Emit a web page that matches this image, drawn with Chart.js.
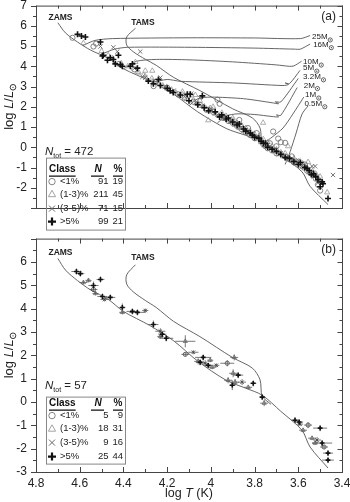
<!DOCTYPE html>
<html>
<head>
<meta charset="utf-8">
<script src="https://cdn.jsdelivr.net/npm/chart.js@4.4.0/dist/chart.umd.min.js"></script>
<style>
  html, body { margin: 0; padding: 0; background: #fff; }
  #wrap { position: relative; width: 350px; height: 502px; overflow: hidden; }
  #boxA, #boxB { position: absolute; left: 0; }
  #boxA { top: 0; }
  #boxB { top: 233px; }
</style>
</head>
<body>
<div id="wrap">
  <div id="boxA"><canvas id="chartA" width="350" height="245"></canvas></div>
  <div id="boxB"><canvas id="chartB" width="350" height="269"></canvas></div>
</div>
<script>
// axis ticks
const xTicks = [3.4, 3.6, 3.8, 4, 4.2, 4.4, 4.6, 4.8];
const yTicksTop = [-2, -1, 0, 1, 2, 3, 4, 5, 6, 7];
const yTicksBottom = [-3, -2, -1, 0, 1, 2, 3, 4, 5, 6];

// table values
const classNames = ['<1%', '(1-3)%', '(3-5)%', '>5%'];
const topN = [91, 211, 71, 99];
const topPct = [19, 45, 15, 21];
const botN = [5, 18, 9, 25];
const botPct = [9, 31, 16, 44];

// ZAMS / TAMS  [logT, logL]
const zams = [[4.70,6.15],[4.665,5.65],[4.61,5.20],[4.55,4.80],[4.47,4.40],[4.40,3.88],[4.28,3.28],[4.17,2.62],[4.06,1.75],[3.93,0.93],[3.84,0.59],[3.765,0.29],[3.68,-0.40],[3.583,-1.21],[3.546,-1.93],[3.464,-2.83]];
const tams = [[4.345,5.88],[4.385,5.45],[4.385,5.05],[4.355,4.72],[4.30,4.35],[4.25,4.05],[4.17,3.45],[4.05,2.80],[3.90,1.90],[3.81,1.45],[3.775,0.95],[3.765,0.25],[3.725,-0.10]];

// evolutionary tracks
const track25 = [[4.585,5.03],[4.53,5.28],[4.45,5.37],[4.09,5.41],[3.80,5.40],[3.59,5.37],[3.546,5.52]];
const track16 = [[4.505,4.58],[4.44,4.85],[4.38,4.94],[4.09,4.94],[3.80,4.90],[3.62,4.85],[3.59,4.85],[3.546,5.10]];
const track10 = [[4.40,3.88],[4.34,4.25],[4.25,4.34],[4.10,4.32],[3.90,4.22],[3.70,4.07],[3.64,4.00],[3.62,4.02],[3.585,4.25]];
const track5 = [[4.27,3.20],[4.20,3.35],[4.14,3.26],[3.90,3.18],[3.67,3.05],[3.645,3.10],[3.66,3.18],[3.64,3.15],[3.592,3.80]];
const track32 = [[4.10,2.05],[4.06,2.40],[4.00,2.48],[3.85,2.40],[3.72,2.20],[3.69,2.15],[3.705,2.25],[3.68,2.24],[3.60,3.40]];
const track2 = [[3.97,1.20],[3.93,1.55],[3.88,1.65],[3.80,1.62],[3.72,1.52],[3.69,1.50],[3.70,1.60],[3.68,1.58],[3.605,2.95]];
const track1 = [[3.765,0.00],[3.75,0.25],[3.72,0.50],[3.67,0.95],[3.625,1.64],[3.575,2.48]];
const track05 = [[3.66,-0.85],[3.637,-0.21],[3.61,0.70],[3.583,1.64],[3.555,2.05]];
const tracks = [track25, track16, track10, track5, track32, track2, track1, track05];
const massNames = ['25', '16', '10', '5', '3.2', '2', '1', '0.5'];
const massLabelT = [3.537, 3.532, 3.578, 3.578, 3.578, 3.575, 3.569, 3.572];
const massLabelL = [5.45, 5.07, 4.21, 3.91, 3.48, 3.05, 2.58, 2.15];

// panel (a) stars  [logT, logL]
const topCircle = [[4.633,5.41],[4.537,4.98],[4.525,5.12],[4.42,4.12],[4.35,3.85],[4.254,3.22],[4.262,3.02],[4.20,2.95],[4.15,2.62],[4.12,2.45],[4.08,2.25],[4.05,2.10],[4.02,1.85],[3.99,1.75],[3.97,2.35],[3.96,2.15],[3.94,1.45],[3.92,1.30],[3.90,1.20],[3.88,1.05],[3.87,1.35],[3.86,0.90],[3.84,0.75],[3.83,0.95],[3.82,0.60],[3.80,0.45],[3.79,0.70],[3.77,0.30],[3.76,0.15],[3.75,0.05],[3.74,-0.05],[3.73,0.20],[3.72,-0.15],[3.70,-0.30],[3.715,0.78],[3.692,0.43],[3.66,0.22],[3.68,0.25],[3.70,0.05],[3.66,-0.45],[3.64,-0.60],[3.62,-0.75],[3.58,-0.95],[3.56,-1.15],[3.52,-1.55],[3.50,-1.70],[3.50,-2.14],[3.63,-0.45],[3.57,-0.85],[3.54,-1.30],[3.51,-1.85]];
const topTriangle = [[4.583,5.15],[4.345,4.21],[4.300,3.78],[4.268,3.78],[4.336,3.70],[4.308,3.57],[4.131,2.62],[4.071,2.58],[4.003,1.94],[4.012,1.33],[3.898,1.33],[3.761,1.21],[3.647,0.05],[3.555,-0.73],[3.500,-1.67],[3.468,-2.23],[4.50,4.75],[4.47,4.55],[4.45,4.40],[4.41,4.15],[4.38,4.00],[4.33,3.70],[4.30,3.50],[4.27,3.40],[4.24,3.20],[4.22,3.05],[4.20,2.90],[4.18,2.85],[4.16,2.70],[4.14,2.55],[4.13,2.75],[4.11,2.40],[4.10,2.55],[4.08,2.35],[4.06,2.15],[4.05,2.30],[4.03,2.00],[4.02,1.90],[4.00,1.80],[3.99,2.00],[3.98,1.65],[3.96,1.55],[3.95,1.70],[3.94,1.40],[3.93,1.55],[3.92,1.35],[3.91,1.25],[3.90,1.45],[3.89,1.10],[3.88,1.20],[3.87,0.95],[3.86,1.10],[3.85,0.80],[3.84,0.95],[3.83,0.70],[3.82,0.80],[3.81,0.55],[3.80,0.65],[3.79,0.40],[3.78,0.55],[3.77,0.25],[3.76,0.40],[3.75,0.10],[3.74,0.25],[3.73,-0.05],[3.72,0.05],[3.71,-0.20],[3.70,-0.10],[3.69,-0.35],[3.68,-0.25],[3.67,-0.45],[3.66,-0.30],[3.65,-0.55],[3.63,-0.65],[3.61,-0.80],[3.59,-0.95],[3.57,-1.05],[3.55,-1.25],[3.53,-1.40],[3.62,-0.55],[3.60,-0.70],[3.58,-0.80],[3.56,-1.00],[3.54,-1.10],[3.52,-1.30],[3.51,-1.50],[3.50,-1.45]];
const topCross = [[4.505,4.98],[4.446,4.94],[4.428,4.73],[4.323,4.73],[4.313,3.48],[4.300,3.44],[4.231,3.44],[3.537,-0.94],[3.523,-0.94],[3.441,-1.37],[4.35,3.90],[4.26,3.30],[4.21,3.00],[4.17,2.80],[4.12,2.50],[4.07,2.20],[4.04,2.05],[4.00,1.90],[3.97,1.60],[3.94,1.50],[3.91,1.30],[3.89,1.15],[3.86,1.00],[3.84,0.85],[3.81,0.70],[3.79,0.50],[3.77,0.35],[3.74,0.10],[3.71,-0.10],[3.68,-0.30],[3.65,-0.50],[3.62,-0.70],[3.58,-0.90],[3.55,-1.20],[4.09,2.65],[4.05,2.45],[3.60,-0.65],[3.53,-1.45],[3.51,-1.75]];
const topPlus = [[4.610,5.58],[4.592,5.50],[4.574,5.45],[4.505,5.20],[4.492,4.55],[4.496,4.51],[4.473,4.30],[4.460,4.42],[4.446,4.34],[4.423,4.55],[4.437,4.12],[4.414,4.08],[4.405,4.00],[4.368,4.00],[4.336,3.91],[4.359,4.12],[4.286,3.27],[4.263,3.14],[4.240,3.35],[4.231,3.05],[4.199,2.92],[4.186,2.79],[4.172,2.71],[4.140,2.58],[4.108,2.62],[4.094,2.62],[4.039,2.54],[3.491,-1.71],[3.487,-1.80],[3.464,-2.53],[4.10,2.30],[4.06,2.10],[4.03,1.95],[4.01,1.80],[3.98,1.75],[3.96,1.50],[3.95,1.60],[3.93,1.40],[3.92,1.45],[3.90,1.25],[3.88,1.10],[3.87,1.15],[3.85,0.90],[3.84,0.80],[3.82,0.70],[3.81,0.60],[3.80,0.50],[3.78,0.45],[3.77,0.30],[3.76,0.20],[3.75,0.20],[3.74,0.00],[3.72,-0.10],[3.70,-0.20],[3.68,-0.35],[3.66,-0.50],[3.64,-0.55],[3.62,-0.70],[3.60,-0.85],[3.57,-1.00],[3.55,-1.15],[3.53,-1.30],[3.52,-1.45],[3.59,-0.75],[3.56,-1.05],[3.54,-1.35],[3.51,-1.60],[3.50,-1.95]];

// panel (b) stars  [logT, logL, err logT, err logL]
const botCircle = [[4.537,4.82,0.018,0.085],[4.117,2.04,0.018,0.085],[3.925,1.66,0.032,0.13],[3.555,-0.99,0.018,0.13],[3.482,-1.93,0.018,0.085]];
const botTriangle = [[4.583,5.12,0.018,0.085],[4.528,4.65,0.014,0.085],[4.405,3.84,0.014,0.085],[4.231,2.81,0.014,0.085],[4.117,2.60,0.046,0.26],[4.058,1.74,0.018,0.13],[3.994,1.49,0.018,0.085],[3.893,1.91,0.018,0.13],[3.898,1.23,0.018,0.17],[3.921,0.93,0.018,0.13],[3.889,0.85,0.018,0.13],[3.829,0.63,0.018,0.085],[3.756,-0.05,0.018,0.13],[3.578,-1.21,0.018,0.085],[3.537,-1.55,0.018,0.085],[3.523,-1.76,0.014,0.085],[4.560,5.21,0.014,0.085],[4.003,1.79,0.014,0.085]];
const botCross = [[4.487,4.39,0.018,0.085],[4.231,3.03,0.023,0.13],[4.080,2.13,0.023,0.085],[4.026,1.66,0.018,0.13],[3.975,1.57,0.014,0.085],[3.857,0.85,0.018,0.13],[3.514,-1.63,0.018,0.13],[4.300,3.92,0.014,0.085],[3.592,-0.95,0.014,0.085]];
const botPlus = [[4.615,5.59,0.023,0.13],[4.597,5.50,0.018,0.13],[4.537,4.99,0.023,0.17],[4.505,5.25,0.018,0.13],[4.496,4.52,0.023,0.13],[4.460,4.48,0.023,0.13],[4.405,4.05,0.014,0.17],[4.359,3.88,0.027,0.13],[4.336,3.84,0.037,0.13],[4.263,3.32,0.023,0.17],[4.222,2.90,0.018,0.13],[4.204,2.73,0.032,0.13],[4.035,1.91,0.037,0.13],[4.049,1.70,0.018,0.13],[4.012,1.57,0.018,0.085],[3.875,1.15,0.023,0.13],[3.902,0.72,0.014,0.21],[3.806,0.80,0.014,0.13],[3.765,0.21,0.014,0.13],[3.615,-0.78,0.018,0.13],[3.596,-0.86,0.018,0.13],[3.500,-1.12,0.032,0.13],[3.491,-1.76,0.046,0.13],[3.464,-2.19,0.023,0.13],[3.464,-2.49,0.027,0.13]];

const FONT = '"Liberation Sans", Arial, Helvetica, sans-serif';
Chart.defaults.font.family = FONT;
Chart.defaults.color = '#222';

const toXY = arr => arr.map(p => ({x: p[0], y: p[1]}));
const toXYE = arr => arr.map(p => ({x: p[0], y: p[1], dx: p[2], dy: p[3]}));

function lineSet(arr, tension) {
  return {data: toXY(arr), showLine: true, borderColor: '#555', borderWidth: 0.9,
    pointRadius: 0, tension: tension, fill: false};
}

const markStyle = [
  {pointStyle: 'circle', pointRadius: 2.6, pointBorderColor: '#666', pointBackgroundColor: 'rgba(0,0,0,0)', pointBorderWidth: 0.8},
  {pointStyle: 'triangle', pointRadius: 3, pointBorderColor: '#999', pointBackgroundColor: 'rgba(0,0,0,0)', pointBorderWidth: 0.8},
  {pointStyle: 'crossRot', pointRadius: 3, pointBorderColor: '#666', pointBorderWidth: 0.9},
  {pointStyle: 'cross', pointRadius: 3, pointBorderColor: '#111', pointBorderWidth: 1.6}
];

function drawSun(ctx, x, y, r) {
  ctx.beginPath(); ctx.arc(x, y, r, 0, Math.PI * 2); ctx.stroke();
  ctx.beginPath(); ctx.arc(x, y, 0.6, 0, Math.PI * 2); ctx.fill();
}

function drawMarker(ctx, k, x, y) {
  ctx.save();
  ctx.beginPath();
  if (k === 0) {
    ctx.strokeStyle = '#777'; ctx.lineWidth = 0.9;
    ctx.arc(x, y, 3.2, 0, Math.PI * 2);
  } else if (k === 1) {
    ctx.strokeStyle = '#999'; ctx.lineWidth = 0.9;
    ctx.moveTo(x, y - 3.8); ctx.lineTo(x + 3.6, y + 2.6); ctx.lineTo(x - 3.6, y + 2.6); ctx.closePath();
  } else if (k === 2) {
    ctx.strokeStyle = '#666'; ctx.lineWidth = 1;
    ctx.moveTo(x - 3, y - 3); ctx.lineTo(x + 3, y + 3); ctx.moveTo(x + 3, y - 3); ctx.lineTo(x - 3, y + 3);
  } else {
    ctx.strokeStyle = '#111'; ctx.lineWidth = 2.2;
    ctx.moveTo(x - 4, y); ctx.lineTo(x + 4, y); ctx.moveTo(x, y - 4); ctx.lineTo(x, y + 4);
  }
  ctx.stroke();
  ctx.restore();
}

// frame with inner / outer ticks
const frameTicks = {
  id: 'frameTicks',
  afterDraw(chart) {
    const {ctx, chartArea: a, scales: {x, y}} = chart;
    ctx.save();
    ctx.strokeStyle = '#444';
    ctx.lineWidth = 1;
    ctx.strokeRect(a.left + 0.5, a.top + 0.5, a.right - a.left, a.bottom - a.top);
    ctx.beginPath();
    for (let i = 0; i <= 20; i++) {
      const v = -3 + i * 0.5;
      const py = Math.round(y.getPixelForValue(v)) + 0.5;
      const len = i % 2 === 0 ? 5 : 3;
      ctx.moveTo(a.left - len, py); ctx.lineTo(a.left, py);
      ctx.moveTo(a.right + 0.5, py); ctx.lineTo(a.right + 0.5 - len, py);
    }
    for (let i = 0; i <= 14; i++) {
      const v = 3.4 + i * 0.1;
      const px = Math.round(x.getPixelForValue(v)) + 0.5;
      const len = i % 2 === 0 ? 5 : 3;
      ctx.moveTo(px, a.top); ctx.lineTo(px, a.top + len);
      ctx.moveTo(px, a.bottom); ctx.lineTo(px, a.bottom - len);
    }
    ctx.stroke();
    ctx.restore();
  }
};

// horizontal and vertical error bars for panel (b)
const errorBars = {
  id: 'errorBars',
  beforeDatasetsDraw(chart) {
    const {ctx, scales: {x, y}} = chart;
    ctx.save();
    ctx.strokeStyle = '#555';
    ctx.lineWidth = 0.8;
    ctx.beginPath();
    chart.data.datasets.forEach(ds => {
      if (!ds.errorBars) return;
      ds.data.forEach(p => {
        const cx = x.getPixelForValue(p.x), cy = y.getPixelForValue(p.y);
        ctx.moveTo(x.getPixelForValue(p.x + p.dx), cy);
        ctx.lineTo(x.getPixelForValue(p.x - p.dx), cy);
        ctx.moveTo(cx, y.getPixelForValue(p.y + p.dy));
        ctx.lineTo(cx, y.getPixelForValue(p.y - p.dy));
      });
    });
    ctx.stroke();
    ctx.restore();
  }
};

// texts: panel letter, ZAMS/TAMS, masses, N table, axis titles
const decor = {
  id: 'decor',
  afterDraw(chart, args, o) {
    const {ctx, chartArea: a, scales: {x, y}} = chart;
    const X = v => x.getPixelForValue(v), Y = v => y.getPixelForValue(v);
    ctx.save();
    ctx.fillStyle = '#222';
    ctx.strokeStyle = '#222';
    ctx.textBaseline = 'middle';

    ctx.font = `12px ${FONT}`;
    ctx.textAlign = 'right';
    ctx.fillText(o.letter, a.right - 6, a.top + 11);

    ctx.font = `bold 8.5px ${FONT}`;
    ctx.textAlign = 'center';
    ctx.fillText('ZAMS', X(4.688), Y(6.40));
    ctx.fillText('TAMS', X(4.311), Y(6.18));

    if (o.masses) {
      ctx.font = `8px ${FONT}`;
      ctx.textAlign = 'left';
      ctx.lineWidth = 0.7;
      massNames.forEach((m, i) => {
        const px = X(massLabelT[i]), py = Y(massLabelL[i]);
        const s = m + 'M';
        ctx.fillText(s, px, py);
        drawSun(ctx, px + ctx.measureText(s).width + 2.6, py + 3, 2.1);
      });
    }

    // N_tot line
    const L = a.left, T = a.top;
    let x0 = L + 9;
    const y0 = T + o.ntotY;
    ctx.textAlign = 'left';
    ctx.font = `italic 11.5px ${FONT}`;
    ctx.fillText('N', x0, y0); x0 += ctx.measureText('N').width;
    ctx.font = `7px ${FONT}`;
    ctx.fillText('tot', x0, y0 + 4); x0 += ctx.measureText('tot').width;
    ctx.font = `11.5px ${FONT}`;
    ctx.fillText(' = ' + o.ntot, x0, y0);

    // table box
    ctx.strokeStyle = '#888';
    ctx.lineWidth = 1;
    ctx.strokeRect(L + 10.5, T + o.boxTop + 0.5, 79, o.boxBottom - o.boxTop);

    const r = o.rowY;
    ctx.fillStyle = '#111';
    ctx.strokeStyle = '#111';
    ctx.lineWidth = 1.1;
    ctx.font = `bold 10px ${FONT}`;
    ctx.textAlign = 'left';
    ctx.fillText('Class', L + 13, T + r[0]);
    const cw = ctx.measureText('Class').width;
    ctx.beginPath();
    ctx.moveTo(L + 13, T + r[0] + 6.5); ctx.lineTo(L + 13 + cw, T + r[0] + 6.5);
    ctx.moveTo(L + 55, T + r[0] + 6.5); ctx.lineTo(L + 68, T + r[0] + 6.5);
    ctx.moveTo(L + 77, T + r[0] + 6.5); ctx.lineTo(L + 87, T + r[0] + 6.5);
    ctx.stroke();
    ctx.font = `bold italic 10px ${FONT}`;
    ctx.textAlign = 'center';
    ctx.fillText('N', L + 62, T + r[0]);
    ctx.font = `bold 10px ${FONT}`;
    ctx.fillText('%', L + 82, T + r[0]);

    ctx.fillStyle = '#222';
    ctx.font = `9.5px ${FONT}`;
    classNames.forEach((c, i) => {
      const yy = T + r[i + 1];
      drawMarker(ctx, i, L + 16, yy);
      ctx.textAlign = 'left';
      ctx.fillText(c, L + 24, yy);
      ctx.textAlign = 'right';
      ctx.fillText(String(o.counts[i]), L + 72.5, yy);
      ctx.fillText(String(o.pct[i]), L + 87, yy);
    });

    // y title: log L/L_sun
    ctx.save();
    ctx.translate(9, (a.top + a.bottom) / 2);
    ctx.rotate(-Math.PI / 2);
    const parts = [['log ', ''], ['L', 'italic '], ['/', ''], ['L', 'italic ']];
    let w = 0;
    parts.forEach(p => { ctx.font = `${p[1]}13px ${FONT}`; w += ctx.measureText(p[0]).width; });
    let xx = -(w + 7) / 2;
    ctx.textAlign = 'left';
    ctx.fillStyle = '#222';
    parts.forEach(p => { ctx.font = `${p[1]}13px ${FONT}`; ctx.fillText(p[0], xx, 0); xx += ctx.measureText(p[0]).width; });
    ctx.strokeStyle = '#222';
    ctx.lineWidth = 0.9;
    drawSun(ctx, xx + 3.5, 4, 2.8);
    ctx.restore();

    // x title
    if (o.xTitle) {
      const xp = [['log ', ''], ['T', 'italic '], [' (K)', '']];
      let tw = 0;
      xp.forEach(p => { ctx.font = `${p[1]}12.5px ${FONT}`; tw += ctx.measureText(p[0]).width; });
      let xt = (a.left + a.right) / 2 - tw / 2;
      ctx.textAlign = 'left';
      xp.forEach(p => { ctx.font = `${p[1]}12.5px ${FONT}`; ctx.fillText(p[0], xt, o.xTitleY); xt += ctx.measureText(p[0]).width; });
    }
    ctx.restore();
  }
};

function panelOptions(yTicks, showX, decorOpts) {
  return {
    responsive: false,
    animation: false,
    devicePixelRatio: 1,
    layout: {padding: {top: 5, right: 8, bottom: showX ? 0 : 7, left: 0}},
    plugins: {legend: {display: false}, tooltip: {enabled: false}, decor: decorOpts},
    scales: {
      x: {
        type: 'linear', min: 3.4, max: 4.8, reverse: true, display: showX,
        grid: {display: false, drawTicks: false}, border: {display: false},
        ticks: {padding: 4, color: '#222', font: {size: 12}, callback: v => String(v)},
        afterBuildTicks: s => { s.ticks = xTicks.map(v => ({value: v})); },
        afterFit: s => { s.height = 30; s.paddingLeft = 0; s.paddingRight = 0; }
      },
      y: {
        type: 'linear', min: -3, max: 7,
        grid: {display: false, drawTicks: false}, border: {display: false},
        ticks: {padding: 9, color: '#222', font: {size: 12}, callback: v => String(v)},
        afterBuildTicks: s => { s.ticks = yTicks.map(v => ({value: v})); },
        afterFit: s => { s.width = 36; s.paddingTop = 0; s.paddingBottom = 0; }
      }
    }
  };
}

// panel (a)
const topSets = [
  Object.assign({data: toXY(topPlus)}, markStyle[3]),
  Object.assign({data: toXY(topCross)}, markStyle[2]),
  Object.assign({data: toXY(topCircle)}, markStyle[0]),
  Object.assign({data: toXY(topTriangle)}, markStyle[1]),
  lineSet(zams, 0.3),
  lineSet(tams, 0.3)
];
tracks.forEach(t => topSets.push(lineSet(t, 0.25)));

new Chart(document.getElementById('chartA'), {
  type: 'scatter',
  data: {datasets: topSets},
  options: panelOptions(yTicksTop, false, {
    letter: '(a)', masses: true, ntot: 472, counts: topN, pct: topPct,
    ntotY: 146, boxTop: 152, boxBottom: 224, rowY: [164, 176, 188.5, 203, 216]
  }),
  plugins: [errorBars, frameTicks, decor]
});

// panel (b)
const small = (s, c) => Object.assign({}, s, {pointRadius: s.pointRadius * 0.8, pointBorderColor: c});
const botSets = [
  Object.assign({data: toXYE(botPlus), errorBars: true}, small(markStyle[3], '#111')),
  Object.assign({data: toXYE(botCross), errorBars: true}, small(markStyle[2], '#444')),
  Object.assign({data: toXYE(botCircle), errorBars: true}, small(markStyle[0], '#444')),
  Object.assign({data: toXYE(botTriangle), errorBars: true}, small(markStyle[1], '#666')),
  lineSet(zams, 0.3),
  lineSet(tams, 0.3)
];

new Chart(document.getElementById('chartB'), {
  type: 'scatter',
  data: {datasets: botSets},
  options: panelOptions(yTicksBottom, true, {
    letter: '(b)', masses: false, ntot: 57, counts: botN, pct: botPct,
    ntotY: 147, boxTop: 158, boxBottom: 225, rowY: [165, 177, 190, 204, 218],
    xTitle: true, xTitleY: 261
  }),
  plugins: [errorBars, frameTicks, decor]
});
</script>
</body>
</html>
